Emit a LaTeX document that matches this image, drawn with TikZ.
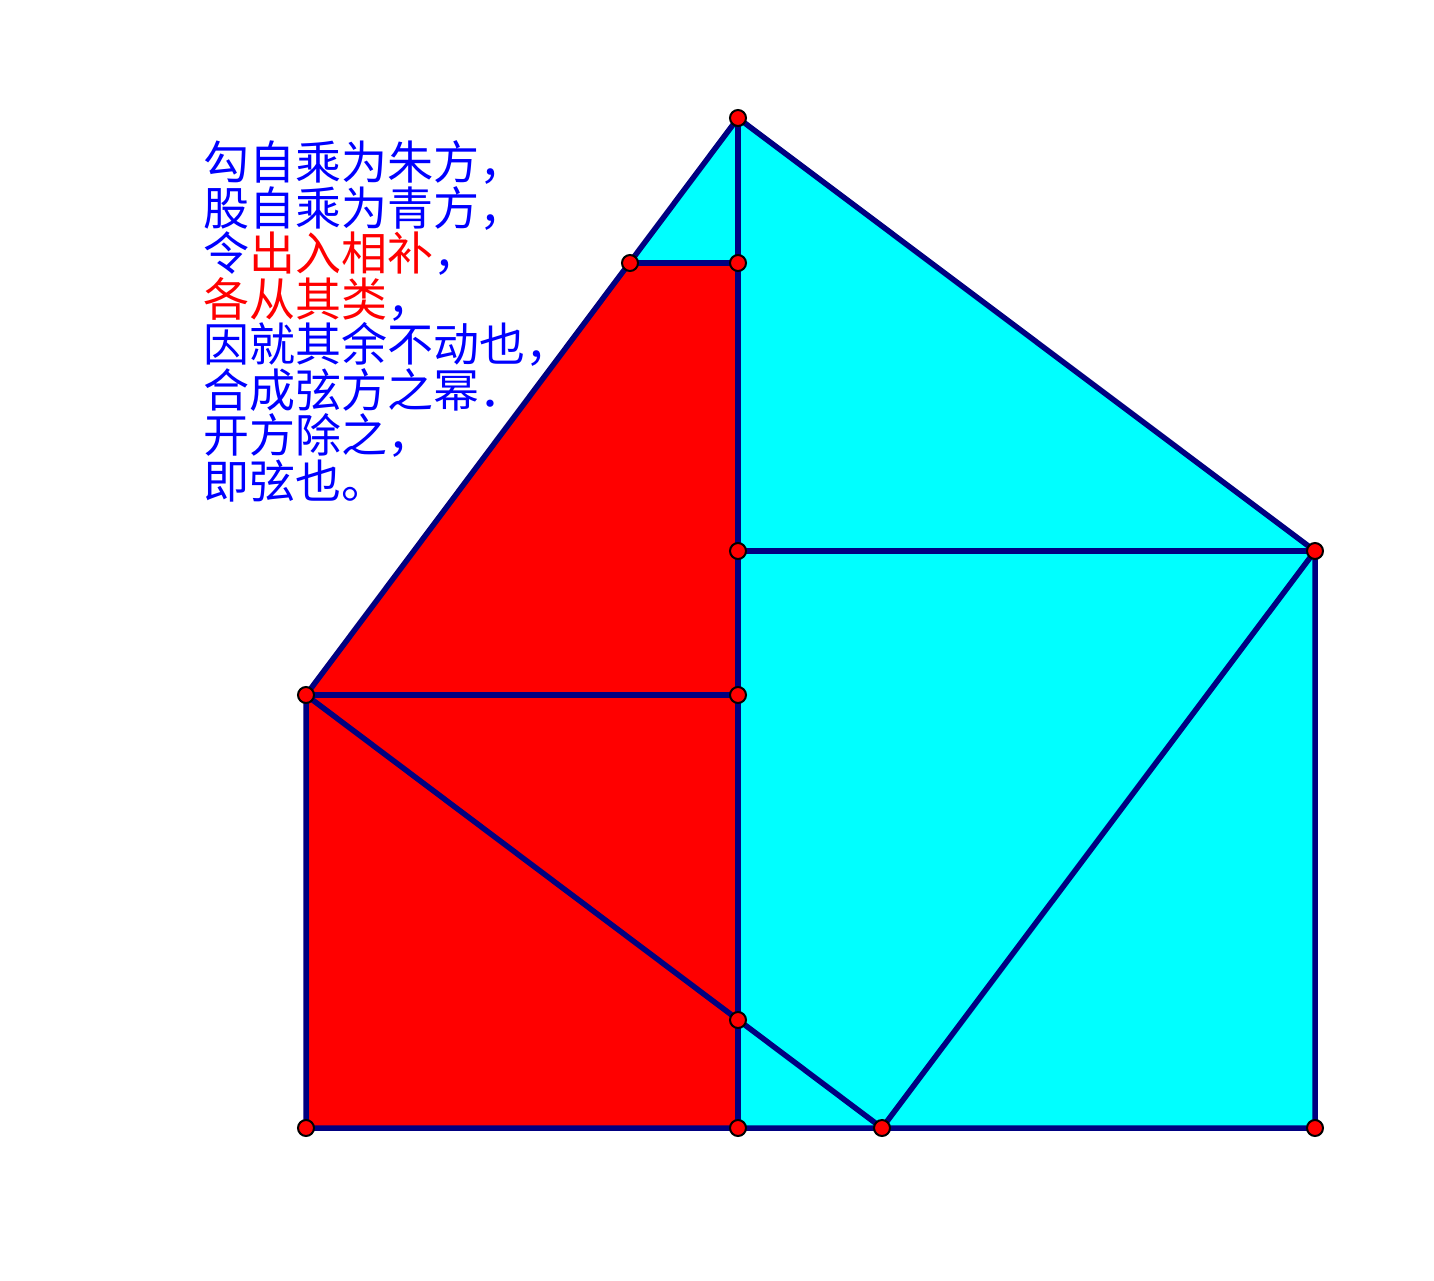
\documentclass[tikz,border=0pt]{standalone}
\usepackage{fontspec}
\newfontfamily\cjk{Noto Sans CJK SC}
\begin{document}
\begin{tikzpicture}[x=1pt,y=-1pt,
  edge/.style={draw=navyline,line width=5.5pt,line cap=round,line join=round},
  pt/.style={circle,fill=red,draw=black,line width=2pt,minimum size=16pt,inner sep=0pt},
  txt/.style={anchor=base west,inner sep=0pt,font=\cjk\fontsize{46}{46}\selectfont,text=blue}]
\definecolor{navyline}{RGB}{0,0,128}
\definecolor{cyanfill}{RGB}{0,255,255}
\useasboundingbox[fill=white] (0,0) rectangle (1434,1280);
% points
\coordinate (A) at (306,1128);
\coordinate (B) at (738,1128);
\coordinate (C) at (882,1128);
\coordinate (D) at (1315,1128);
\coordinate (E) at (1315,551);
\coordinate (F) at (738,551);
\coordinate (G) at (738,118);
\coordinate (H) at (630,263);
\coordinate (I) at (738,263);
\coordinate (J) at (306,695);
\coordinate (K) at (738,695);
\coordinate (L) at (738,1020);
% fills
\fill[cyanfill] (H) -- (G) -- (E) -- (D) -- (B) -- (I) -- cycle;
\fill[red] (A) -- (B) -- (I) -- (H) -- (J) -- cycle;
% edges
\draw[edge] (J) -- (G) -- (E) -- (D) -- (A) -- cycle;
\draw[edge] (G) -- (B);
\draw[edge] (H) -- (I);
\draw[edge] (J) -- (K);
\draw[edge] (F) -- (E);
\draw[edge] (J) -- (C);
\draw[edge] (E) -- (C);
% dots
\foreach \p in {A,B,C,D,E,F,G,H,I,J,K,L} \node[pt] (d\p) at (\p) {};
% text
\node[txt] (t1) at (203,179.5) {勾自乘为朱方，};
\node[txt] (t2) at (203,225) {股自乘为青方，};
\node[txt] (t3) at (203,270.5) {令\textcolor{red}{出入相补}，};
\node[txt] (t4) at (203,316) {\textcolor{red}{各从其类}，};
\node[txt] (t5) at (203,361.5) {因就其余不动也，};
\node[txt] (t6) at (203,407) {合成弦方之幂．};
\node[txt] (t7) at (203,452.5) {开方除之，};
\node[txt] (t8) at (203,498) {即弦也。};
\end{tikzpicture}
\end{document}
